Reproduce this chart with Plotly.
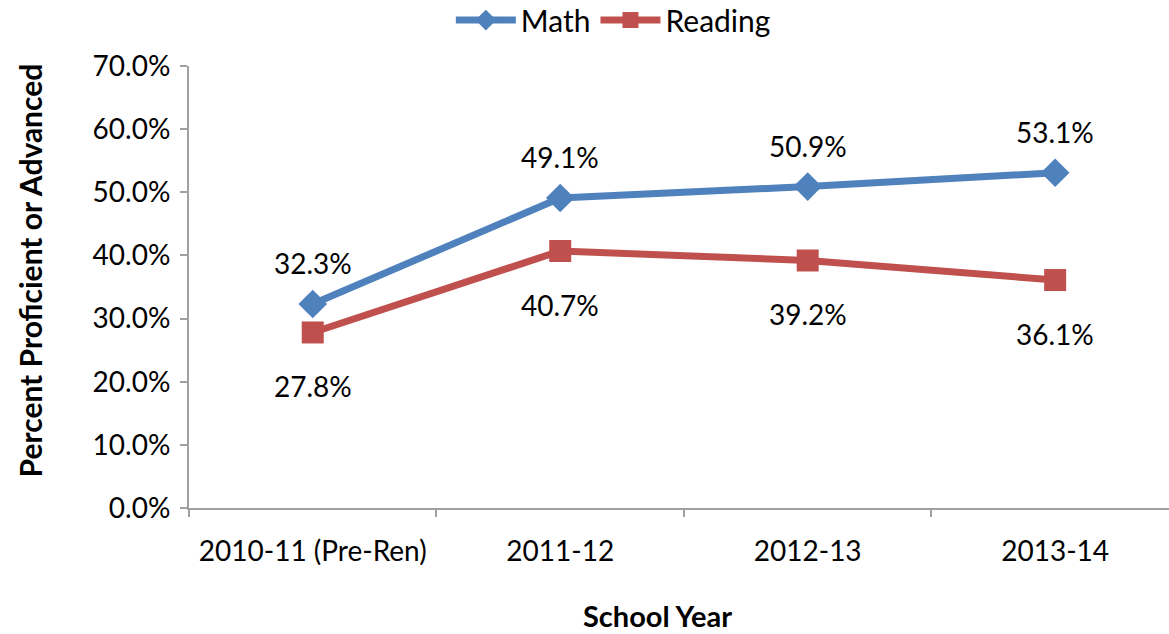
import plotly.graph_objects as go

years = ["2010-11 (Pre-Ren)", "2011-12", "2012-13", "2013-14"]
math = [32.3, 49.1, 50.9, 53.1]
reading = [27.8, 40.7, 39.2, 36.1]
yticks = [0, 10, 20, 30, 40, 50, 60, 70]

FONT = "Lato, 'Open Sans', sans-serif"
BLUE = "#4F81BD"
RED = "#C0504D"
AXIS = "#A0A0A0"

fig = go.Figure()
fig.add_trace(go.Scatter(
    x=years, y=math, name="Math", mode="lines+markers",
    line=dict(color=BLUE, width=7),
    marker=dict(symbol="diamond", size=22, color=BLUE),
))
fig.add_trace(go.Scatter(
    x=years, y=reading, name="Reading", mode="lines+markers",
    line=dict(color=RED, width=7),
    marker=dict(symbol="square", size=22, color=RED),
))

annotations = []
for x, v in zip(years, math):
    annotations.append(dict(x=x, y=v, xref="x", yref="y", text=f"{v:.1f}%",
                            showarrow=False, yshift=41,
                            font=dict(size=28, color="black", family=FONT)))
for x, v in zip(years, reading):
    annotations.append(dict(x=x, y=v, xref="x", yref="y", text=f"{v:.1f}%",
                            showarrow=False, yshift=-54,
                            font=dict(size=28, color="black", family=FONT)))
# axis titles
annotations.append(dict(text="<b>School Year</b>", xref="paper", yref="paper",
                        x=0.478, y=-0.243, xanchor="center", yanchor="middle",
                        showarrow=False, font=dict(size=29, color="black", family=FONT)))
annotations.append(dict(text="<b>Percent Proficient or Advanced</b>", xref="paper", yref="paper",
                        x=-0.162, y=0.538, xanchor="center", yanchor="middle", textangle=-90,
                        showarrow=False, font=dict(size=30, color="black", family=FONT)))

fig.update_layout(
    width=1169, height=634,
    margin=dict(l=189, r=0, t=66, b=126, autoexpand=False),
    paper_bgcolor="white", plot_bgcolor="white",
    font=dict(family=FONT, size=28, color="black"),
    annotations=annotations,
    showlegend=True,
    legend=dict(orientation="h", x=0.433, xanchor="center", xref="paper",
                y=1.104, yanchor="middle", font=dict(size=30),
                itemwidth=60),
    xaxis=dict(
        type="category", automargin=False,
        range=[-0.5, 3.46], showgrid=False, showline=True, linecolor=AXIS,
        linewidth=2, ticks="outside", tickson="boundaries", ticklen=7,
        tickcolor=AXIS, tickwidth=2, ticklabelstandoff=17,
        tickfont=dict(size=28),
    ),
    yaxis=dict(
        automargin=False,
        range=[0, 70], tickvals=yticks,
        ticktext=[f"{v:.1f}%" for v in yticks],
        showgrid=False, showline=True, linecolor=AXIS, linewidth=2,
        ticks="outside", ticklen=7, tickcolor=AXIS, tickwidth=2,
        zeroline=False, ticklabelstandoff=4,
        tickfont=dict(size=28),
    ),
)

fig.write_html("out.html", config={"displayModeBar": False},
               post_script="document.body.style.margin='0';")
